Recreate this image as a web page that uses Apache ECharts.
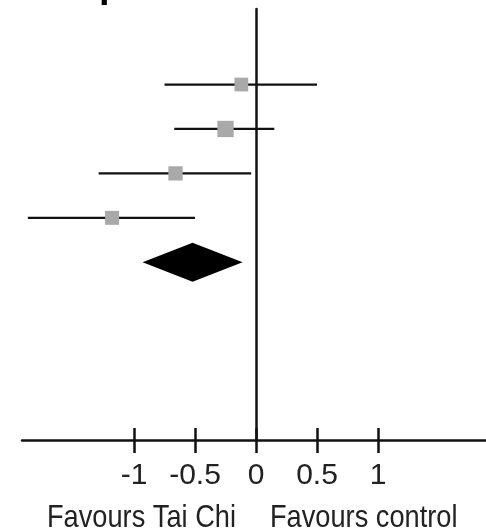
<!DOCTYPE html>
<html>
<head>
<meta charset="utf-8">
<script src="https://cdn.jsdelivr.net/npm/echarts@6/dist/echarts.min.js"></script>
<style>
html,body{margin:0;padding:0;background:#fff;}
#chart{width:486px;height:530px;}
</style>
</head>
<body>
<div id="chart"></div>
<script>
// Study rows (top to bottom), effect sizes with 95% CI
const rows = [0, 1, 2, 3];
const estimates = [-0.12, -0.25, -0.66, -1.18];
const lower = [-0.75, -0.67, -1.29, -1.87];
const upper = [0.50, 0.15, -0.04, -0.50];
const weights = [24, 34, 26, 25];
// Pooled estimate
const pooledRow = 4;
const pooled = [-0.93, -0.52, -0.11]; // lower, estimate, upper
const tickValues = [-1, -0.5, 0, 0.5, 1];
const tickLabels = ['-1', '-0.5', '0', '0.5', '1'];
const leftLabel = 'Favours Tai Chi';
const rightLabel = 'Favours control';

const FONT = '"Liberation Sans", Arial, sans-serif';
const chart = echarts.init(document.getElementById('chart'));

const ciData = rows.map((r, i) => [lower[i], upper[i], r]);
const ptData = rows.map((r, i) => [estimates[i], r, weights[i]]);

const baseX = {
  type: 'value', min: -1.918, max: 1.885, gridIndex: 0,
  splitLine: {show: false}
};

chart.setOption({
  animation: false,
  grid: {left: 22, right: 0, top: 9, bottom: 90},
  xAxis: [
    Object.assign({}, baseX, {
      position: 'bottom',
      axisLine: {show: true, onZero: false, lineStyle: {color: '#111', width: 2.5}},
      axisTick: {show: true, inside: false, length: 13, customValues: tickValues, lineStyle: {color: '#111', width: 2.5}},
      axisLabel: {show: true, margin: 21, customValues: tickValues,
        formatter: v => tickLabels[tickValues.indexOf(Math.round(v * 10) / 10)] ?? '',
        color: '#222', fontSize: 30, fontFamily: FONT}
    }),
    Object.assign({}, baseX, {
      position: 'bottom',
      axisLine: {show: false, onZero: false},
      axisTick: {show: true, inside: true, length: 12, customValues: tickValues, lineStyle: {color: '#111', width: 2.5}},
      axisLabel: {show: false}
    })
  ],
  yAxis: {
    type: 'value', inverse: true, min: -1.7, max: 8,
    axisLine: {show: true, onZero: true, lineStyle: {color: '#111', width: 2.5}},
    axisTick: {show: false}, axisLabel: {show: false}, splitLine: {show: false}
  },
  graphic: [
    {type: 'text', x: 47, y: 518, scaleX: 0.85,
      style: {text: leftLabel, font: '32px ' + FONT, fill: '#222', verticalAlign: 'middle'}},
    {type: 'text', x: 270, y: 518, scaleX: 0.85,
      style: {text: rightLabel, font: '32px ' + FONT, fill: '#222', verticalAlign: 'middle'}},
    {type: 'text', x: 99, y: -13, style: {text: 'p', font: 'bold 38px ' + FONT, fill: '#000', verticalAlign: 'middle'}}
  ],
  series: [
    {
      type: 'custom', xAxisIndex: 0, data: ciData,
      renderItem: (params, api) => {
        const a = api.coord([api.value(0), api.value(2)]);
        const b = api.coord([api.value(1), api.value(2)]);
        return {type: 'line', shape: {x1: a[0], y1: a[1], x2: b[0], y2: b[1]},
          style: {stroke: '#111', lineWidth: 2.3}};
      }
    },
    {
      type: 'scatter', xAxisIndex: 0, data: ptData, symbol: 'rect',
      symbolSize: d => Math.sqrt(d[2]) * 2.8,
      itemStyle: {color: '#a9a9a9', opacity: 1}, z: 3
    },
    {
      type: 'custom', xAxisIndex: 0, data: [[pooled[0], pooled[1], pooled[2], pooledRow]],
      renderItem: (params, api) => {
        const y = api.value(3);
        const l = api.coord([api.value(0), y]);
        const c = api.coord([api.value(1), y]);
        const r = api.coord([api.value(2), y]);
        const h = 19.5;
        return {type: 'polygon', shape: {points: [[l[0], l[1]], [c[0], c[1] - h], [r[0], r[1]], [c[0], c[1] + h]]},
          style: {fill: '#000'}};
      }, z: 4
    }
  ]
});
</script>
</body>
</html>
